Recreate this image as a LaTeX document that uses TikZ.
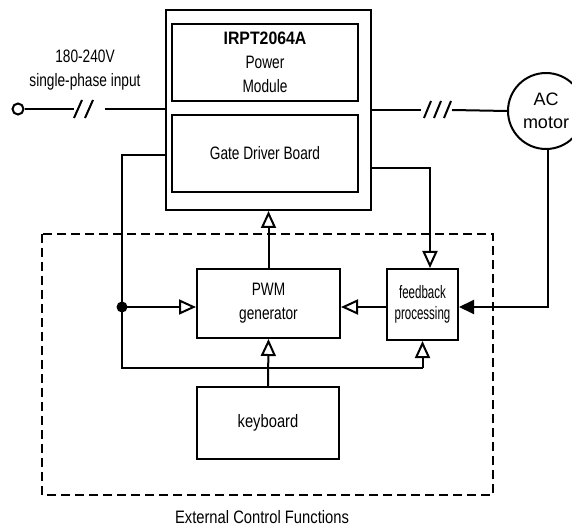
\documentclass[tikz,border=0pt]{standalone}
\usepackage{fontspec}
\setmainfont{Liberation Sans}[FakeStretch=0.76, BoldFeatures={FakeStretch=0.88}]
\newfontfamily\fbfont{Liberation Sans}[FakeStretch=0.64]
\newfontfamily\midfont{Liberation Sans}[FakeStretch=0.82]
\newfontfamily\widefont{Liberation Sans}[FakeStretch=1.0]
\usetikzlibrary{arrows.meta,calc}
\begin{document}
\begin{tikzpicture}[x=1pt,y=-1pt,
  line width=2pt,
  blk/.style={draw,rectangle,inner sep=0pt,align=center,font=\fontsize{18}{24}\selectfont},
  oarrow/.style={-{Triangle[open,length=17pt,width=15pt,line width=2pt]}},
  farrow/.style={-{Triangle[length=15pt,width=14pt]}},
  dashbox/.style={draw,dash pattern=on 9pt off 5pt,line width=2pt},
  lbl/.style={align=center,inner sep=0pt}]
\useasboundingbox (0,0) rectangle (572,526);
% boxes
\node[blk,minimum width=205pt,minimum height=200pt] (outer) at (268.5,110) {};
\node[blk,minimum width=186pt,minimum height=77pt] (pm) at (265,62.5)
  {\textbf{IRPT2064A}\\Power\\Module};
\node[blk,minimum width=186pt,minimum height=77pt] (gdb) at (265,153.5) {Gate Driver Board};
\node[blk,minimum width=143pt,minimum height=69pt] (pwm) at (268.5,303.5) {PWM\\generator};
\node[blk,minimum width=71pt,minimum height=71pt,font=\fbfont\fontsize{18}{21}\selectfont] (fb) at (422.5,304.5) {feedback\\processing};
\node[blk,minimum width=142pt,minimum height=72pt,font=\midfont\fontsize{18}{21}\selectfont] (kb) at (268,423) {keyboard};
\node[draw,circle,minimum size=76pt,inner sep=0pt,align=center,font=\widefont\fontsize{18}{23}\selectfont] (motor) at (546,111) {AC\\motor};
\node[draw,circle,minimum size=11pt,inner sep=0pt] (in) at (18,109) {};
% dashed area
\draw[dashbox] (42,234) rectangle (493,495);
\node[lbl,font=\midfont\fontsize{18}{18}\selectfont] (ext) at (262,517) {External Control Functions};
\node[lbl,font=\fontsize{18}{24}\selectfont] (inlbl) at (85,70) {180-240V\\single-phase input};
% input line
\coordinate (i1) at (74,109);
\coordinate (i2) at (105,109);
\draw (in) -- (i1);
\draw (i2) -- (i2 -| outer.west);
\draw (74,118) -- (82,100);
\draw (85,118) -- (93,100);
% output line
\coordinate (o1) at (421,110);
\coordinate (o2) at (452,110);
\draw (outer.east |- o1) -- (o1);
\draw (o2) -- (motor.west);
\draw (424,118) -- (431,101);
\draw (434,118) -- (441,101);
\draw (444,118) -- (451,101);
% control connections
\coordinate (lt) at (122,155);
\coordinate (dot) at (122,307);
\coordinate (lb) at (122,368);
\draw (outer.west |- lt) -- (lt) -- (lb) -- (lb -| fb.south);
\draw[oarrow] (lb -| fb.south) -- (fb.south);
\fill (dot) circle (5.5pt);
\draw[oarrow] (dot) -- (dot -| pwm.west);
\draw[oarrow] (pwm.north) -- (outer.south);
\draw[oarrow] (kb.north) -- (pwm.south);
\coordinate (gr) at (430,168);
\draw[oarrow] (outer.east |- gr) -- (gr) -- (gr |- fb.north);
\draw[oarrow] (fb.west |- dot) -- (pwm.east |- dot);
\coordinate (mr) at (548,307);
\draw[farrow] (motor.south -| mr) -- (mr) -- (fb.east |- mr);
\end{tikzpicture}
\end{document}
